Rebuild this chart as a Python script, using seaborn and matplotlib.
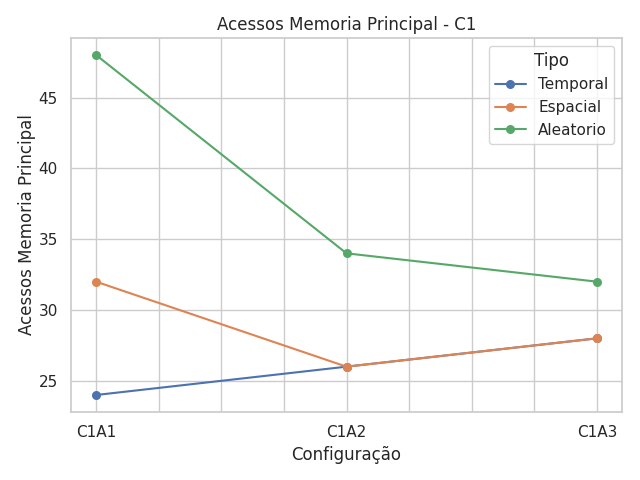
import matplotlib
matplotlib.use('Agg')
import matplotlib.pyplot as plt
from matplotlib.ticker import MultipleLocator, FuncFormatter
import seaborn as sns
import pandas as pd

configs = ['C1A1', 'C1A2', 'C1A3']
tipos = ['Temporal', 'Espacial', 'Aleatorio']
temporal = [24, 26, 28]
espacial = [32, 26, 28]
aleatorio = [48, 34, 32]

sns.set_theme(style='whitegrid')

rows = []
for tipo, vals in zip(tipos, [temporal, espacial, aleatorio]):
    for i, v in enumerate(vals):
        rows.append({'Pos': i, 'Configuração': configs[i], 'Acessos': v, 'Tipo': tipo})
df = pd.DataFrame(rows)

fig, ax = plt.subplots(figsize=(6.4, 4.8), dpi=100)
sns.lineplot(data=df, x='Pos', y='Acessos', hue='Tipo', marker='o',
             markersize=6.5, markeredgewidth=0, ax=ax)

def fmt(x, pos):
    if abs(x - round(x)) < 1e-6 and 0 <= round(x) < len(configs):
        return configs[int(round(x))]
    return ''

ax.xaxis.set_major_locator(MultipleLocator(0.25))
ax.xaxis.set_major_formatter(FuncFormatter(fmt))
ax.set_xlabel('Configuração')
ax.set_ylabel('Acessos Memoria Principal', labelpad=2)
ax.set_title('Acessos Memoria Principal - C1')
ax.legend(title='Tipo', loc='upper right')

fig.subplots_adjust(left=71/640, right=622/640, top=1-38/480, bottom=1-412/480)
plt.savefig('out.png')
